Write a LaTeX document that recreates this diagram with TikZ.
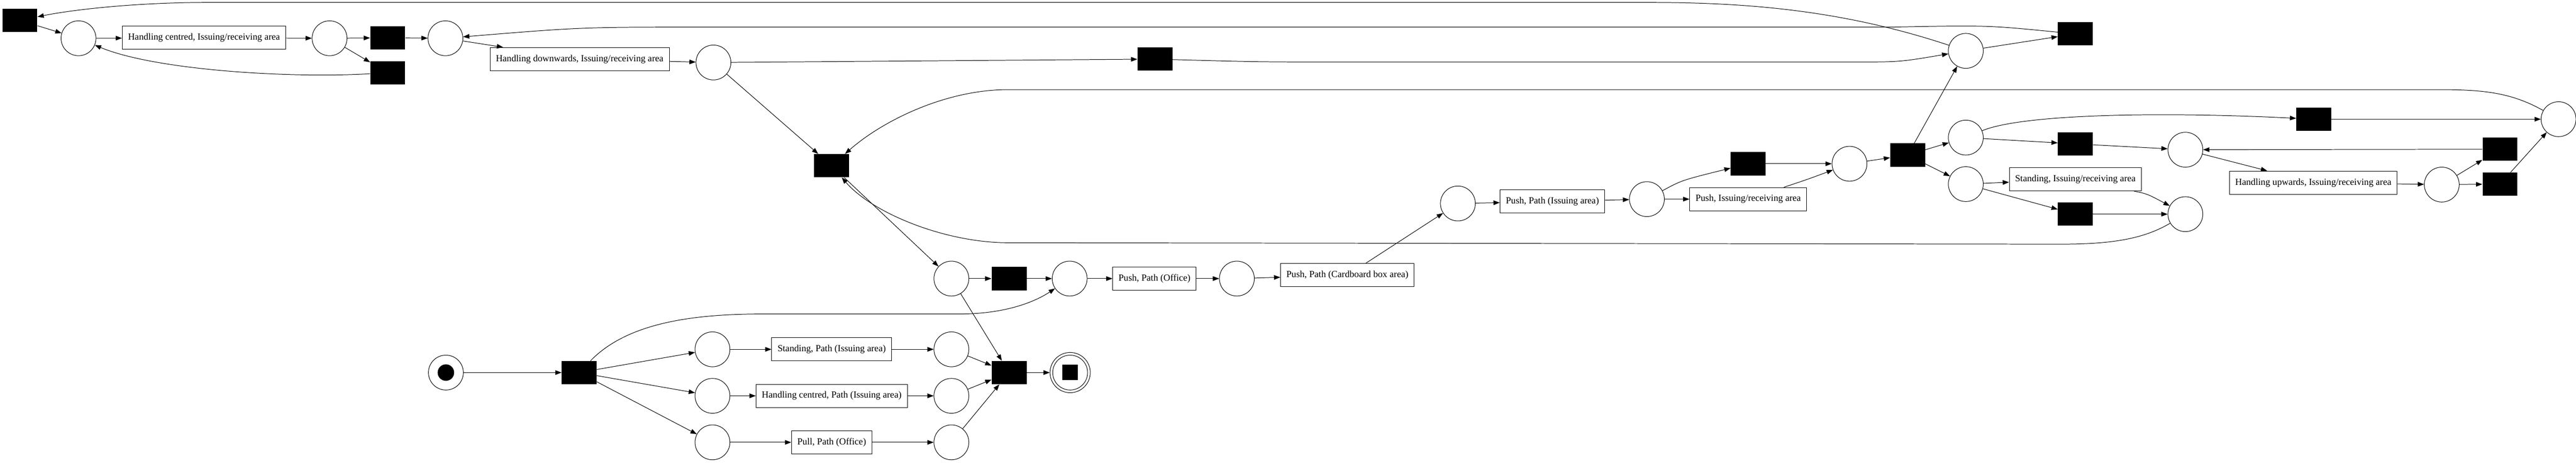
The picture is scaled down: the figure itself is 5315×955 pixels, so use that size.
\documentclass[tikz,border=0pt]{standalone}
\usepackage{fontspec}
\setmainfont{Liberation Serif}
\usetikzlibrary{arrows.meta}

\def\placesize{14.4mm}
\def\lw{0.6pt}

\begin{document}
\begin{tikzpicture}[x=0.2mm, y=-0.2mm,
% Here are defined the places, transitions and tasks (e.g. shape, size and arrows)
font=\fontsize{11}{13}\selectfont,
place/.style={
circle, draw=black, line width=\lw,
minimum size=\placesize, inner sep=0 },
trans/.style={
rectangle, fill=black, inner sep=0,
minimum width=\placesize,
minimum height=9.6mm },
task/.style={
rectangle, draw=black, line width=\lw,
minimum height=9.6mm, inner xsep=2.4mm },
arc/.style={
-{Triangle[length=2.6mm,width=1.9mm]},
line width=\lw },
]
\useasboundingbox (0,0) rectangle (5315,955);

%%%%%%%%%%%%%%%%%%%%%%%%
%%% DRAW THE NET
%%%%%%%%%%%%%%%%%%%%%%%%

% The top left loop
\node[trans] (tA) at (41,42) {};
\node[place] (p1) at (162,79) {};
\node[task] (bHCir) at (421,78) {Handling centred, Issuing/receiving area};
\node[place] (p2) at (680,79) {};
\node[trans] (t2) at (800,78) {};
\node[trans] (t3) at (800,150) {};
\node[place] (p3) at (919,79) {};
\node[task] (bHDir) at (1196,122) {Handling downwards, Issuing/receiving area};
\node[place] (p4) at (1472,129) {};
\node[trans] (t4) at (2383,122) {};
\node[trans] (t5) at (1716,342) {};
\node[place] (p5) at (4056,105) {};
\node[trans] (t8) at (4282,70) {};

%%%% The start and the three paths
\node[place] (pS) at (920,769) {};
\node[circle, fill=black, minimum size=6.8mm, inner sep=0] (tok) at (pS) {};
\node[trans] (tS) at (1195,769) {};
\node[place] (pa) at (1470,721) {};
\node[place] (pb) at (1470,817) {};
\node[place] (pc) at (1470,913) {};
\node[task] (bSP) at (1716,721) {Standing, Path (Issuing area)};
\node[task] (bHCP) at (1716,817) {Handling centred, Path (Issuing area)};
\node[task] (bPull) at (1716,913) {Pull, Path (Office)};
\node[place] (pa2) at (1963,721) {};
\node[place] (pb2) at (1963,817) {};
\node[place] (pc2) at (1963,913) {};
\node[trans] (tE) at (2082,769) {};
\node[place, minimum size=16.6mm] (pF) at (2208,769) {};
\node[place] (pFin) at (pF) {};
\node[rectangle, fill=black, minimum size=6.4mm, inner sep=0] (fin) at (pF) {};

%%%% The push chain
\node[place] (px) at (1963,575) {};
\node[trans] (tx) at (2082,575) {};
\node[place] (py) at (2207,575) {};
\node[task] (bPO) at (2382,575) {Push, Path (Office)};
\node[place] (pz) at (2552,575) {};
\node[task] (bPC) at (2780,568) {Push, Path (Cardboard box area)};
\node[place] (p6) at (3008,420) {};
\node[task] (bPI) at (3203,416) {Push, Path (Issuing area)};
\node[place] (p7) at (3398,411) {};
\node[trans] (t6) at (3607,338) {};
\node[task] (bPIR) at (3607,411) {Push, Issuing/receiving area};
\node[place] (p8) at (3816,338) {};
\node[trans] (t7) at (3936,320) {};

%%%% The right part
\node[place] (p9) at (4056,284) {};
\node[place] (p10) at (4056,380) {};
\node[trans] (t9) at (4774,246) {};
\node[trans] (t10) at (4282,297) {};
\node[place] (p12) at (4509,309) {};
\node[trans] (t11) at (5158,308) {};
\node[task] (bSIR) at (4282,370) {Standing, Issuing/receiving area};
\node[task] (bHUir) at (4773,377) {Handling upwards, Issuing/receiving area};
\node[place] (p13) at (5038,381) {};
\node[trans] (t12) at (5158,380) {};
\node[trans] (t13) at (4282,442) {};
\node[place] (p14) at (4509,442) {};
\node[place] (p11) at (5279,246) {};

%%%%%%%%%%%%%%%%%%%%%%%%
%%% DRAW THE ARCS
%%%%%%%%%%%%%%%%%%%%%%%%

% top left
\draw[arc] (tA) -- (p1);
\draw[arc] (p1) -- (bHCir);
\draw[arc] (bHCir) -- (p2);
\draw[arc] (p2) -- (t2);
\draw[arc] (p2) -- (t3);
\draw[arc] (t2) -- (p3);
\draw[arc] (t3) .. controls (600,162) and (320,145) .. (p1);
\draw[arc] (p3) -- (bHDir);
\draw[arc] (bHDir) -- (p4);
\draw[arc] (p4) -- (t4);
\draw[arc] (p4) -- (t5);
\draw[arc] (t4) .. controls (2600,128) .. (2800,128) -- (3820,128) .. controls (3920,128) .. (p5);
\draw[arc] (p5) -- (t8);
\draw[arc] (p5) .. controls (3800,20) and (3600,5) .. (3400,5) -- (430,5) .. controls (280,5) and (150,20) .. (tA);
\draw[arc] (t8) .. controls (4100,52) .. (3900,56) -- (1450,56) .. controls (1200,56) .. (p3);

% the long loops back to the middle transition
\draw[arc] (p11) .. controls (5180,190) and (5120,185) .. (5030,185) -- (2080,185) .. controls (1950,185) and (1820,250) .. (t5);
\draw[arc] (p14) .. controls (4420,495) and (4350,504) .. (4250,504) -- (2080,501) .. controls (1950,501) and (1800,440) .. (t5);
\draw[arc] (t5) -- (px);

% bottom
\draw[arc] (pS) -- (tS);
\draw[arc] (tS) -- (pa);
\draw[arc] (tS) -- (pb);
\draw[arc] (tS) -- (pc);
\draw[arc] (tS) .. controls (1300,660) and (1450,648) .. (1580,648) -- (1980,648) .. controls (2080,648) and (2140,620) .. (py);
\draw[arc] (pa) -- (bSP);
\draw[arc] (pb) -- (bHCP);
\draw[arc] (pc) -- (bPull);
\draw[arc] (bSP) -- (pa2);
\draw[arc] (bHCP) -- (pb2);
\draw[arc] (bPull) -- (pc2);
\draw[arc] (pa2) -- (tE);
\draw[arc] (pb2) -- (tE);
\draw[arc] (pc2) -- (tE);
\draw[arc] (px) -- (tE);
\draw[arc] (tE) -- (pF);

% push chain
\draw[arc] (px) -- (tx);
\draw[arc] (tx) -- (py);
\draw[arc] (py) -- (bPO);
\draw[arc] (bPO) -- (pz);
\draw[arc] (pz) -- (bPC);
\draw[arc] (bPC) -- (p6);
\draw[arc] (p6) -- (bPI);
\draw[arc] (bPI) -- (p7);
\draw[arc] (p7) .. controls (3470,372) .. (t6);
\draw[arc] (p7) -- (bPIR);
\draw[arc] (t6) -- (p8);
\draw[arc] (bPIR) .. controls (3730,370) .. (p8);
\draw[arc] (p8) -- (t7);

% right part
\draw[arc] (t7) -- (p5);
\draw[arc] (t7) -- (p9);
\draw[arc] (t7) -- (p10);
\draw[arc] (p9) .. controls (4170,236) and (4450,230) .. (t9);
\draw[arc] (p9) -- (t10);
\draw[arc] (t10) -- (p12);
\draw[arc] (p10) -- (bSIR);
\draw[arc] (p10) -- (t13);
\draw[arc] (bSIR) .. controls (4430,400) .. (p14);
\draw[arc] (t13) -- (p14);
\draw[arc] (p12) -- (bHUir);
\draw[arc] (bHUir) -- (p13);
\draw[arc] (p13) -- (t11);
\draw[arc] (p13) -- (t12);
\draw[arc] (t11) -- (p12);
\draw[arc] (t9) -- (p11);
\draw[arc] (t12) -- (p11);

\end{tikzpicture}
\end{document}
